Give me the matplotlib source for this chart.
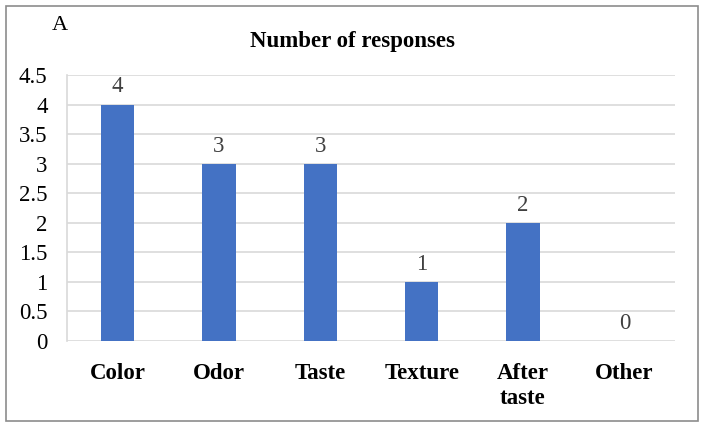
import matplotlib
matplotlib.use('Agg')
import matplotlib.pyplot as plt
from matplotlib.patches import Rectangle

categories = ['Color', 'Odor', 'Taste', 'Texture', 'After\ntaste', 'Other']
responses = [4, 3, 3, 1, 2, 0]
yticks = [0, 0.5, 1, 1.5, 2, 2.5, 3, 3.5, 4, 4.5]

plt.rcParams['font.family'] = ['Liberation Serif', 'DejaVu Serif']

fig = plt.figure(figsize=(7.04, 4.26), dpi=100)
ax = fig.add_axes([67/704, 1-341/426, (675-67)/704, (341-75)/426])

x = range(len(categories))
bars = ax.bar(x, responses, width=0.33, color='#4472C4', zorder=3)
for xi, v in zip(x, responses):
    ax.text(xi, v + 0.12, str(v), ha='center', va='bottom', fontsize=16.5, color='#404040')

ax.set_ylim(0, 4.5)
ax.set_xlim(-0.5, len(categories) - 0.5)
ax.set_yticks(yticks)
ax.set_yticklabels([('%g' % t) for t in yticks], fontsize=16.5)
ax.set_xticks(list(x))
ax.set_xticklabels(categories, fontsize=16.5, fontweight='bold', linespacing=1.25)
ax.tick_params(axis='both', length=0)
ax.tick_params(axis='x', pad=15.5)
ax.tick_params(axis='y', pad=14)
ax.grid(axis='y', color='#d9d9d9', linewidth=1.2, zorder=0)
for s in ['top', 'right', 'bottom']:
    ax.spines[s].set_visible(False)
ax.spines['left'].set_color('#d9d9d9')
ax.spines['left'].set_linewidth(1.2)

fig.text(352/704, 1-41/426, 'Number of responses', ha='center', va='center',
         fontsize=16.5, fontweight='bold')
fig.text(60/704, 1-26/426, 'A', ha='center', va='center', fontsize=16)

fig.patches.append(Rectangle((6/704, 5/426), 692/704, 415/426, transform=fig.transFigure,
                             fill=False, edgecolor='#8c8c8c', linewidth=1.2))

fig.savefig('out.png', dpi=100)
